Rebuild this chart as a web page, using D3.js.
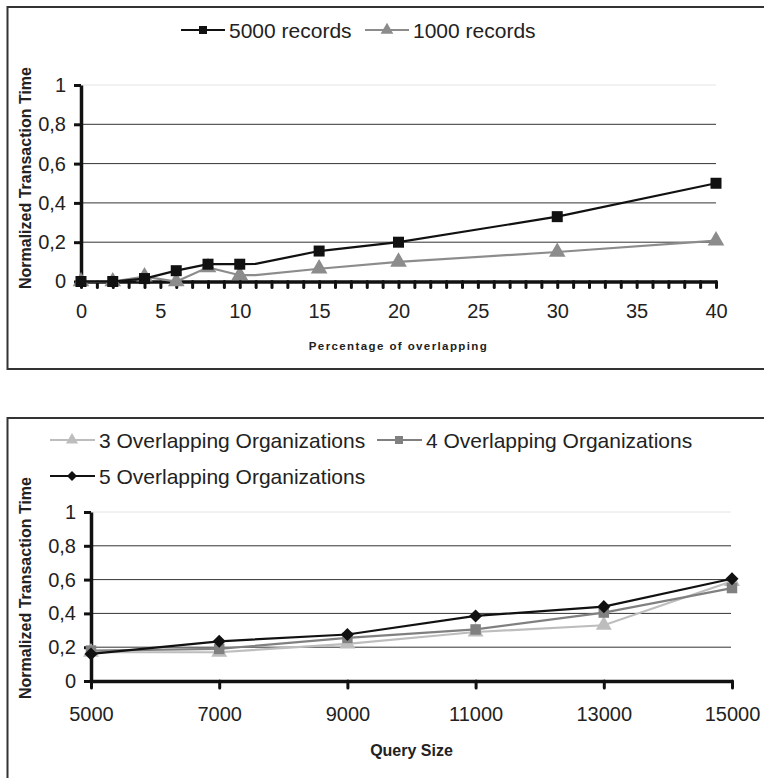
<!DOCTYPE html>
<html>
<head>
<meta charset="utf-8">
<script src="https://cdn.jsdelivr.net/npm/d3@7"></script>
<style>
  body { margin: 0; background: #fff; }
  svg text { font-family: "Liberation Sans", Arial, sans-serif; }
</style>
</head>
<body>
<div id="graph"></div>
<script>
// top chart: percentage of overlapping
const pctX = [0, 2, 4, 6, 8, 10, 11, 15, 20, 30, 40]
const rec5000 = [0, 0, 0.015, 0.055, 0.088, 0.088, 0.09, 0.155, 0.2, 0.33, 0.5]
const rec1000 = [0, 0, 0.025, 0, 0.072, 0.032, 0.032, 0.065, 0.1, 0.15, 0.208]
const markedPct = [0, 2, 4, 6, 8, 10, 15, 20, 30, 40]
const pctLabels = [0, 5, 10, 15, 20, 25, 30, 35, 40]

// bottom chart: query size
const querySize = [5000, 7000, 9000, 11000, 13000, 15000]
const org3 = [0.17, 0.17, 0.22, 0.29, 0.33, 0.59]
const org4 = [0.18, 0.19, 0.255, 0.305, 0.405, 0.55]
const org5 = [0.16, 0.235, 0.275, 0.385, 0.44, 0.605]

const yTicks = [0, 0.2, 0.4, 0.6, 0.8, 1]

const width = 764
const height = 778

const svg = d3.select("#graph").append("svg")
    .attr("width", width)
    .attr("height", height)

const fmt = d => d === 0 ? "0" : d === 1 ? "1" : String(d).replace(".", ",")

function marker(g, shape, x, y, color, size) {
    // diamond = square turned 45 degrees, like the Excel marker
    const sym = shape === "triangle" ? d3.symbolTriangle : d3.symbolSquare
    g.append("path")
        .attr("d", d3.symbol(sym, size)())
        .attr("transform", `translate(${x},${y})` + (shape === "diamond" ? " rotate(45)" : ""))
        .attr("fill", color)
}

function frame(top, bottom) {
    svg.append("path")
        .attr("d", `M${width + 5},${top}H7.5V${bottom}H${width + 5}`)
        .attr("fill", "none")
        .attr("stroke", "#333")
        .attr("stroke-width", 2)
}

function yTitle(cy) {
    svg.append("text")
        .attr("transform", `translate(31,${cy}) rotate(-90)`)
        .attr("text-anchor", "middle")
        .attr("font-size", 16)
        .attr("font-weight", "bold")
        .attr("fill", "#222")
        .text("Normalized Transaction Time")
}

function yAxis(y, x0, x1) {
    // grid
    svg.append("g")
        .selectAll()
        .data(yTicks.slice(1))
        .join("line")
        .attr("x1", x0)
        .attr("x2", x1)
        .attr("y1", d => y(d))
        .attr("y2", d => y(d))
        .attr("stroke", d => d === 1 ? "#e4e4e4" : "#333")
        .attr("stroke-width", 1)

    const g = svg.append("g")
        .attr("transform", `translate(${x0},0)`)
        .call(d3.axisLeft(y).tickValues(yTicks).tickFormat(fmt).tickSize(7).tickSizeOuter(0).tickPadding(8))
    g.select(".domain").attr("stroke", "#111").attr("stroke-width", 3.5)
    g.selectAll(".tick line").attr("stroke", "#111").attr("stroke-width", 3)
    g.selectAll(".tick text").attr("font-size", 20).attr("fill", "#222")
}

// ---------------- Top chart ----------------
frame(7, 369)

const x1 = d3.scaleLinear().domain([0, 40]).range([81, 716])
const y1 = d3.scaleLinear().domain([0, 1]).range([281.5, 85])

yAxis(y1, 81, 716)
yTitle(178)

const xa1 = svg.append("g")
    .attr("transform", `translate(0,${y1(0)})`)
    .call(d3.axisBottom(x1).tickValues(d3.range(0, 41)).tickFormat(d => pctLabels.includes(d) ? d : "")
        .tickSize(6).tickSizeOuter(0).tickPadding(16))
xa1.select(".domain").attr("stroke", "#111").attr("stroke-width", 3.5)
xa1.selectAll(".tick line").attr("stroke", "#111").attr("stroke-width", 3).attr("stroke-linecap", "round")
xa1.selectAll(".tick text").attr("font-size", 20).attr("fill", "#222")

svg.append("text")
    .attr("x", (x1(0) + x1(40)) / 2)
    .attr("y", 350)
    .attr("text-anchor", "middle")
    .attr("font-size", 11.5)
    .attr("font-weight", "bold")
    .attr("letter-spacing", 1.4)
    .attr("fill", "#222")
    .text("Percentage of overlapping")

const topSeries = [
    { name: "1000 records", values: rec1000, color: "#8c8c8c", shape: "triangle", size: 120 },
    { name: "5000 records", values: rec5000, color: "#111", shape: "square", size: 121 }
]

const line1 = d3.line().x(d => x1(d[0])).y(d => y1(d[1]))
topSeries.forEach(s => {
    const pts = pctX.map((v, i) => [v, s.values[i]])
    svg.append("path")
        .attr("d", line1(pts))
        .attr("fill", "none")
        .attr("stroke", s.color)
        .attr("stroke-width", 2.2)
    const mg = svg.append("g")
    pts.filter(p => markedPct.includes(p[0]))
        .forEach(p => marker(mg, s.shape, x1(p[0]), y1(p[1]), s.color, s.size))
})

// top legend
const topLegend = [
    { name: "5000 records", color: "#111", shape: "square", x: 181, size: 64 },
    { name: "1000 records", color: "#8c8c8c", shape: "triangle", x: 365, size: 70 }
]
topLegend.forEach(l => {
    const g = svg.append("g")
    g.append("line").attr("x1", l.x).attr("x2", l.x + 44).attr("y1", 30).attr("y2", 30)
        .attr("stroke", l.color).attr("stroke-width", 2)
    marker(g, l.shape, l.x + 22, 30, l.color, l.size)
    g.append("text").attr("x", l.x + 48).attr("y", 37.5).attr("font-size", 21).attr("fill", "#222").text(l.name)
})

// ---------------- Bottom chart ----------------
frame(418, height + 5)

const x2 = d3.scaleLinear().domain([5000, 15000]).range([91, 732])
const y2 = d3.scaleLinear().domain([0, 1]).range([681, 512])

yAxis(y2, 91, 731)
yTitle(588)

const xa2 = svg.append("g")
    .attr("transform", `translate(0,${y2(0)})`)
    .call(d3.axisBottom(x2).tickValues(querySize).tickFormat(d => d)
        .tickSize(7).tickSizeOuter(0).tickPadding(19))
xa2.select(".domain").attr("stroke", "#111").attr("stroke-width", 3.5)
xa2.selectAll(".tick line").attr("stroke", "#111").attr("stroke-width", 3).attr("stroke-linecap", "round")
xa2.selectAll(".tick text").attr("font-size", 20).attr("fill", "#222")

svg.append("text")
    .attr("x", (x2(5000) + x2(15000)) / 2)
    .attr("y", 756)
    .attr("text-anchor", "middle")
    .attr("font-size", 16)
    .attr("font-weight", "bold")
    .attr("fill", "#222")
    .text("Query Size")

const bottomSeries = [
    { name: "3 Overlapping Organizations", values: org3, color: "#bdbdbd", shape: "triangle", size: 110 },
    { name: "4 Overlapping Organizations", values: org4, color: "#808080", shape: "square", size: 110 },
    { name: "5 Overlapping Organizations", values: org5, color: "#111", shape: "diamond", size: 85 }
]

const line2 = d3.line().x(d => x2(d[0])).y(d => y2(d[1]))
bottomSeries.forEach(s => {
    const pts = querySize.map((v, i) => [v, s.values[i]])
    svg.append("path")
        .attr("d", line2(pts))
        .attr("fill", "none")
        .attr("stroke", s.color)
        .attr("stroke-width", 2.2)
    const mg = svg.append("g")
    pts.forEach(p => marker(mg, s.shape, x2(p[0]), y2(p[1]), s.color, s.size))
})

// bottom legend
const legendPos = [[50, 440], [377, 440], [50, 476]]
bottomSeries.forEach((s, i) => {
    const [lx, ly] = legendPos[i]
    const g = svg.append("g")
    g.append("line").attr("x1", lx).attr("x2", lx + 45).attr("y1", ly).attr("y2", ly)
        .attr("stroke", s.color).attr("stroke-width", 2)
    marker(g, s.shape, lx + 22, ly, s.color, s.shape === "diamond" ? 50 : 64)
    g.append("text").attr("x", lx + 49).attr("y", ly + 7.5).attr("font-size", 21).attr("fill", "#222").text(s.name)
})
</script>
</body>
</html>
